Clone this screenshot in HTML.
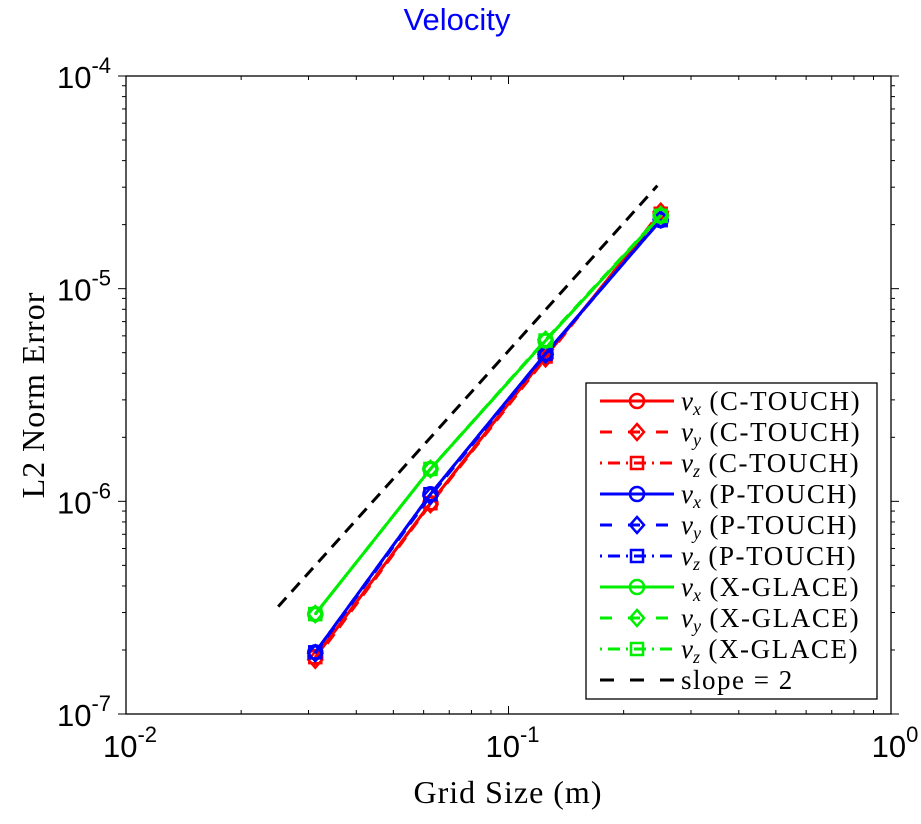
<!DOCTYPE html>
<html><head><meta charset="utf-8"><style>
body{margin:0;background:#fff;width:921px;height:819px;overflow:hidden}
svg text{font-family:"Liberation Sans",sans-serif}
</style></head><body>
<svg id="chart" width="921" height="819" xmlns="http://www.w3.org/2000/svg">
<text x="457" y="30" text-anchor="middle" font-size="31" fill="#0000ff">Velocity</text>
<g id="axes"></g>
<g id="series"></g>
<text x="508" y="803" text-anchor="middle" font-size="32" letter-spacing="1" style="font-family:'Liberation Serif',serif">Grid Size (m)</text>
<text x="0" y="0" transform="translate(44,395) rotate(-90)" text-anchor="middle" font-size="32" letter-spacing="1" style="font-family:'Liberation Serif',serif">L2 Norm Error</text>
<g id="legend"></g>
</svg>
<script>
const gridSizes=[0.03125,0.0625,0.125,0.25];
const cVx=[1.85e-7,0.98e-6,4.8e-6,2.25e-5];
const cVy=[1.8e-7,0.97e-6,4.7e-6,2.3e-5];
const cVz=[1.85e-7,0.98e-6,4.8e-6,2.25e-5];
const pVx=[1.95e-7,1.08e-6,4.95e-6,2.1e-5];
const pVy=[1.93e-7,1.06e-6,4.9e-6,2.12e-5];
const pVz=[1.95e-7,1.08e-6,4.95e-6,2.1e-5];
const gVx=[2.95e-7,1.42e-6,5.7e-6,2.2e-5];
const gVy=[2.95e-7,1.42e-6,5.75e-6,2.22e-5];
const gVz=[2.95e-7,1.42e-6,5.7e-6,2.2e-5];
const slopeX=[0.025,0.245];
const slopeY=[3.2e-7,3.05e-5];
const xTickExp=[-2,-1,0];
const yTickExp=[-7,-6,-5,-4];
const legendLabels=[["v","x","(C-TOUCH)"],["v","y","(C-TOUCH)"],["v","z","(C-TOUCH)"],["v","x","(P-TOUCH)"],["v","y","(P-TOUCH)"],["v","z","(P-TOUCH)"],["v","x","(X-GLACE)"],["v","y","(X-GLACE)"],["v","z","(X-GLACE)"]];

const L=126,R=891,T=76,B=714;
const X=v=>L+(Math.log10(v)+2)/2*(R-L);
const Y=v=>T+(-4-Math.log10(v))/3*(B-T);
const NS="http://www.w3.org/2000/svg";
function mk(tag,attrs,parent){const e=document.createElementNS(NS,tag);for(const k in attrs)e.setAttribute(k,attrs[k]);parent.appendChild(e);return e;}
const axes=document.getElementById('axes');
const frame=mk('rect',{x:L,y:T,width:R-L,height:B-T,fill:'none',stroke:'#000','stroke-width':1.3},axes);


for(let d=-2;d<=0;d++){for(let m=1;m<10;m++){const v=m*Math.pow(10,d);if(v>1)break;const x=X(v);const len=m===1?8:4;
mk('line',{x1:x,x2:x,y1:B,y2:B-len,stroke:'#000','stroke-width':1},axes);
mk('line',{x1:x,x2:x,y1:T,y2:T+len,stroke:'#000','stroke-width':1},axes);}}
for(let d=-7;d<=-4;d++){for(let m=1;m<10;m++){const v=m*Math.pow(10,d);if(Math.log10(v)>-4+1e-9)break;const y=Y(v);const len=m===1?8:4;
mk('line',{x1:L-len,x2:L,y1:y,y2:y,stroke:'#000','stroke-width':1},axes);
mk('line',{x1:R,x2:R+len,y1:y,y2:y,stroke:'#000','stroke-width':1},axes);}}
xTickExp.forEach(e=>{const t=mk('text',{x:X(Math.pow(10,e))+4,y:757,'text-anchor':'middle','font-size':31},axes);


t.innerHTML='10<tspan dy="-15" font-size="22">'+e+'</tspan>';});
yTickExp.forEach(e=>{const t=mk('text',{x:111,y:Y(Math.pow(10,e))+12,'text-anchor':'end','font-size':31},axes);


t.innerHTML='10<tspan dy="-15" font-size="22">'+e+'</tspan>';});

const series=document.getElementById('series');
function marker(g,type,x,y,color){
 if(type==='o')mk('circle',{cx:x,cy:y,r:7,fill:'none',stroke:color,'stroke-width':2.5},g);
 else if(type==='d')mk('polygon',{points:`${x},${y-8} ${x+7},${y} ${x},${y+8} ${x-7},${y}`,fill:'none',stroke:color,'stroke-width':2.5},g);
 else {mk('rect',{x:x-6,y:y-6,width:12,height:12,fill:'none',stroke:color,'stroke-width':2.5},g);mk('rect',{x:x-1,y:y-1,width:2,height:2,fill:color},g);}
}
const dashes={o:'none',d:'12,8',s:'2,5,12,5'};
const defs=[[cVx,'#ff0000','o'],[cVy,'#ff0000','d'],[cVz,'#ff0000','s'],[pVx,'#0000ff','o'],[pVy,'#0000ff','d'],[pVz,'#0000ff','s'],[gVx,'#00ee00','o'],[gVy,'#00ee00','d'],[gVz,'#00ee00','s']];
const sNames=['c-touch-vx','c-touch-vy','c-touch-vz','p-touch-vx','p-touch-vy','p-touch-vz','x-glace-vx','x-glace-vy','x-glace-vz'];
defs.forEach(([vals,color,m],i)=>{const g=mk('g',{},series);
 
 
 mk('polyline',{points:vals.map((v,j)=>X(gridSizes[j])+','+Y(v)).join(' '),fill:'none',stroke:color,'stroke-width':3,'stroke-dasharray':dashes[m]},g);
 vals.forEach((v,j)=>marker(g,m,X(gridSizes[j]),Y(v),color));});
const sl=mk('line',{x1:X(slopeX[0]),y1:Y(slopeY[0]),x2:X(slopeX[1]),y2:Y(slopeY[1]),stroke:'#000','stroke-width':3,'stroke-dasharray':'12,8'},series);



const lg=document.getElementById('legend');
const box=mk('rect',{x:586,y:383,width:291,height:316,fill:'#fff',stroke:'#000','stroke-width':1.3},lg);


defs.forEach(([vals,color,m],i)=>{const y=401+i*31;const g=mk('g',{},lg);
 
 
 mk('line',{x1:600,x2:674,y1:y,y2:y,stroke:color,'stroke-width':3,'stroke-dasharray':m==='o'?'none':(m==='d'?'12,16':'2,6,12,6')},g);
 marker(g,m,637,y,color);
 const t=mk('text',{x:681,y:y+9,'font-size':27,style:"font-family:'Liberation Serif',serif"},g);
 t.innerHTML='<tspan font-style="italic">'+legendLabels[i][0]+'</tspan><tspan font-style="italic" font-size="18" dy="5">'+legendLabels[i][1]+'</tspan><tspan dy="-5" letter-spacing="1.6"> '+legendLabels[i][2]+'</tspan>';});
{const y=401+9*31;const g=mk('g',{},lg);
 
 
 mk('line',{x1:600,x2:674,y1:y,y2:y,stroke:'#000','stroke-width':3,'stroke-dasharray':'14,16'},g);
 const t=mk('text',{x:681,y:y+9,'font-size':27,'letter-spacing':1.5,style:"font-family:'Liberation Serif',serif"},g);t.textContent='slope = 2';}
</script>
</body></html>
